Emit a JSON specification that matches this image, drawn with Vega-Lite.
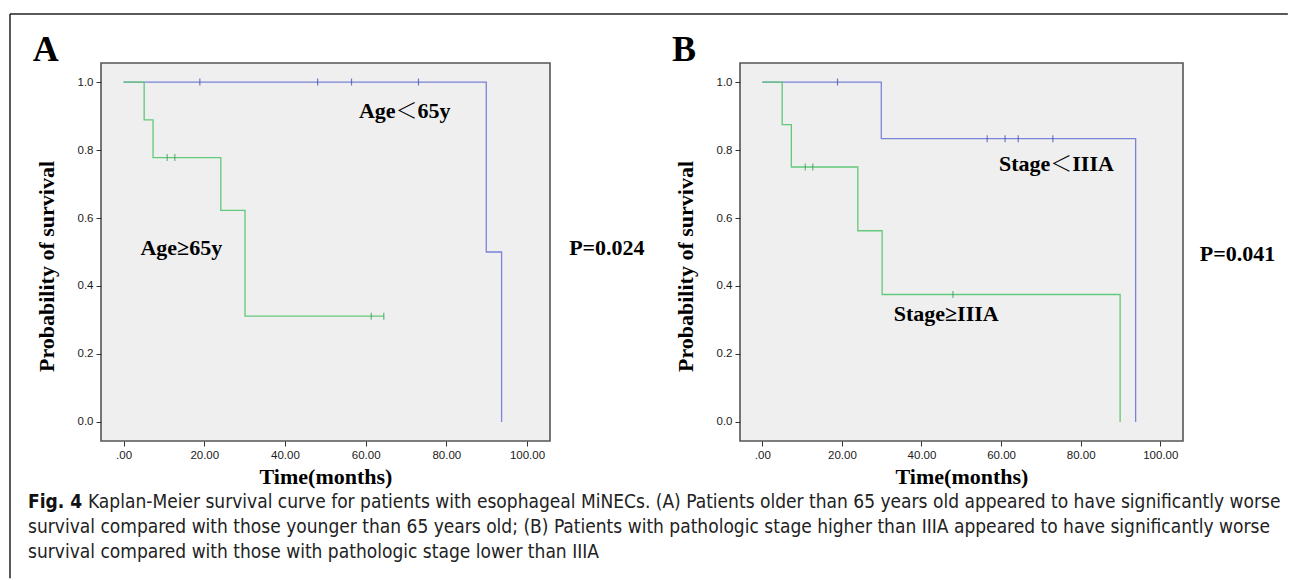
{
  "$schema": "https://vega.github.io/schema/vega-lite/v6.json",
  "background": "white",
  "padding": {"left": 8, "top": 12, "right": 0, "bottom": 0},
  "datasets": {
    "km_age": [
      {"group": "Age<65y", "time": 0, "prob": 1},
      {"group": "Age<65y", "time": 89.9, "prob": 0.5},
      {"group": "Age<65y", "time": 93.7, "prob": 0},
      {"group": "Age≥65y", "time": 0, "prob": 1},
      {"group": "Age≥65y", "time": 5.1, "prob": 0.8889},
      {"group": "Age≥65y", "time": 7.3, "prob": 0.7778},
      {"group": "Age≥65y", "time": 24.1, "prob": 0.6222},
      {"group": "Age≥65y", "time": 30.1, "prob": 0.3111},
      {"group": "Age≥65y", "time": 64.5, "prob": 0.3111}
    ],
    "censor_age": [
      {"group": "Age<65y", "time": 18.9, "prob": 1},
      {"group": "Age<65y", "time": 48.1, "prob": 1},
      {"group": "Age<65y", "time": 56.5, "prob": 1},
      {"group": "Age<65y", "time": 73.1, "prob": 1},
      {"group": "Age≥65y", "time": 10.8, "prob": 0.7778},
      {"group": "Age≥65y", "time": 12.7, "prob": 0.7778},
      {"group": "Age≥65y", "time": 61.4, "prob": 0.3111},
      {"group": "Age≥65y", "time": 64.5, "prob": 0.3111}
    ],
    "km_stage": [
      {"group": "Stage<IIIA", "time": 0, "prob": 1},
      {"group": "Stage<IIIA", "time": 29.9, "prob": 0.8333},
      {"group": "Stage<IIIA", "time": 93.8, "prob": 0},
      {"group": "Stage≥IIIA", "time": 0, "prob": 1},
      {"group": "Stage≥IIIA", "time": 5.0, "prob": 0.875},
      {"group": "Stage≥IIIA", "time": 7.3, "prob": 0.75},
      {"group": "Stage≥IIIA", "time": 24.0, "prob": 0.5625},
      {"group": "Stage≥IIIA", "time": 30.1, "prob": 0.375},
      {"group": "Stage≥IIIA", "time": 89.9, "prob": 0}
    ],
    "censor_stage": [
      {"group": "Stage<IIIA", "time": 18.9, "prob": 1},
      {"group": "Stage<IIIA", "time": 56.5, "prob": 0.8333},
      {"group": "Stage<IIIA", "time": 61.0, "prob": 0.8333},
      {"group": "Stage<IIIA", "time": 64.3, "prob": 0.8333},
      {"group": "Stage<IIIA", "time": 73.0, "prob": 0.8333},
      {"group": "Stage≥IIIA", "time": 10.8, "prob": 0.75},
      {"group": "Stage≥IIIA", "time": 12.7, "prob": 0.75},
      {"group": "Stage≥IIIA", "time": 47.9, "prob": 0.375}
    ],
    "caption": [
      {"line": 1, "text": "Kaplan-Meier survival curve for patients with esophageal MiNECs. (A) Patients older than 65 years old appeared to have significantly worse"},
      {"line": 2, "text": "survival compared with those younger than 65 years old; (B) Patients with pathologic stage higher than IIIA appeared to have significantly worse"},
      {"line": 3, "text": "survival compared with those with pathologic stage lower than IIIA"}
    ]
  },
  "bounds": "flush",
  "columns": 2,
  "spacing": {"row": 48.5, "column": 190},
  "concat": [
    {
      "width": 449,
      "height": 378,
      "view": {"fill": "#efefef", "stroke": "#555555", "strokeWidth": 1.6},
      "resolve": {"scale": {"color": "independent"}},
      "layer": [
        {
          "data": {"name": "km_age"},
          "mark": {"type": "line", "interpolate": "step-after", "strokeWidth": 1.3, "clip": false},
          "encoding": {
            "x": {"field": "time", "type": "quantitative", "scale": {"domain": [-5.6, 105.7], "nice": false, "zero": false},
              "axis": {"values": [0, 20, 40, 60, 80, 100], "labelExpr": "datum.value == 0 ? '.00' : format(datum.value, '.2f')", "title": "Time(months)", "grid": false, "domain": false, "tickSize": 5, "tickColor": "#333333", "labelFont": "Liberation Sans", "labelFontSize": 11.5, "labelColor": "#1a1a1a", "labelPadding": 3, "labelFlush": false, "titleFont": "Liberation Serif", "titleFontSize": 22, "titleFontWeight": "bold", "titleColor": "#000000", "titleY": 35, "titleBaseline": "middle"}},
            "y": {"field": "prob", "type": "quantitative", "scale": {"domain": [-0.056, 1.056], "nice": false, "zero": false},
              "axis": {"values": [0, 0.2, 0.4, 0.6, 0.8, 1], "format": ".1f", "title": "Probability of survival", "grid": false, "domain": false, "tickSize": 5, "tickColor": "#333333", "labelFont": "Liberation Sans", "labelFontSize": 11.5, "labelColor": "#1a1a1a", "labelPadding": 3, "labelFlush": false, "titleFont": "Liberation Serif", "titleFontSize": 22, "titleFontWeight": "bold", "titleColor": "#000000", "titleX": -55, "titleY": 203, "titleBaseline": "middle"}},
            "color": {"field": "group", "type": "nominal", "scale": {"domain": ["Age<65y", "Age≥65y"], "range": ["#7b83d6", "#62c97a"]}, "legend": null}
          }
        },
        {
          "data": {"name": "censor_age"},
          "mark": {"type": "tick", "orient": "vertical", "size": 7, "thickness": 1.2, "clip": false},
          "encoding": {
            "x": {"field": "time", "type": "quantitative"},
            "y": {"field": "prob", "type": "quantitative"},
            "color": {"field": "group", "type": "nominal", "scale": {"domain": ["Age<65y", "Age≥65y"], "range": ["#3a49b0", "#2f9a4f"]}, "legend": null}
          }
        },
        {
          "data": {"values": [{}]},
          "mark": {"type": "text", "text": "A", "font": "Liberation Serif", "fontSize": 36, "fontWeight": "bold", "color": "#000000", "align": "center", "baseline": "alphabetic", "clip": false},
          "encoding": {"x": {"datum": -19.3}, "y": {"datum": 1.062}}
        },
        {
          "data": {"values": [{}]},
          "mark": {"type": "text", "text": "Age＜65y", "font": "Liberation Serif, Noto Serif CJK SC, Noto Sans CJK SC", "fontSize": 22, "fontWeight": "bold", "color": "#000000", "align": "center", "baseline": "middle"},
          "encoding": {"x": {"datum": 69.7}, "y": {"datum": 0.915}}
        },
        {
          "data": {"values": [{}]},
          "mark": {"type": "text", "text": "Age≥65y", "font": "Liberation Serif", "fontSize": 22, "fontWeight": "bold", "color": "#000000", "align": "center", "baseline": "middle"},
          "encoding": {"x": {"datum": 14.3}, "y": {"datum": 0.512}}
        },
        {
          "data": {"values": [{}]},
          "mark": {"type": "text", "text": "P=0.024", "font": "Liberation Serif", "fontSize": 22, "fontWeight": "bold", "color": "#000000", "align": "center", "baseline": "middle", "clip": false},
          "encoding": {"x": {"datum": 119.8}, "y": {"datum": 0.513}}
        },
        {
          "data": {"values": [{}]},
          "mark": {"type": "rule", "color": "#222222", "strokeWidth": 1.5, "clip": false},
          "encoding": {"x": {"datum": -28.16}, "y": {"datum": 1.2}, "y2": {"datum": -0.46}}
        },
        {
          "data": {"values": [{}]},
          "mark": {"type": "rule", "color": "#222222", "strokeWidth": 1.5, "clip": false},
          "encoding": {"x": {"datum": -28.16}, "x2": {"datum": 288.6}, "y": {"datum": 1.2}}
        }
      ]
    },
    {
      "width": 443,
      "height": 378,
      "view": {"fill": "#efefef", "stroke": "#555555", "strokeWidth": 1.6},
      "resolve": {"scale": {"color": "independent"}},
      "layer": [
        {
          "data": {"name": "km_stage"},
          "mark": {"type": "line", "interpolate": "step-after", "strokeWidth": 1.3, "clip": false},
          "encoding": {
            "x": {"field": "time", "type": "quantitative", "scale": {"domain": [-5.6, 105.7], "nice": false, "zero": false},
              "axis": {"values": [0, 20, 40, 60, 80, 100], "labelExpr": "datum.value == 0 ? '.00' : format(datum.value, '.2f')", "title": "Time(months)", "grid": false, "domain": false, "tickSize": 5, "tickColor": "#333333", "labelFont": "Liberation Sans", "labelFontSize": 11.5, "labelColor": "#1a1a1a", "labelPadding": 3, "labelFlush": false, "titleFont": "Liberation Serif", "titleFontSize": 22, "titleFontWeight": "bold", "titleColor": "#000000", "titleY": 35, "titleBaseline": "middle"}},
            "y": {"field": "prob", "type": "quantitative", "scale": {"domain": [-0.056, 1.056], "nice": false, "zero": false},
              "axis": {"values": [0, 0.2, 0.4, 0.6, 0.8, 1], "format": ".1f", "title": "Probability of survival", "grid": false, "domain": false, "tickSize": 5, "tickColor": "#333333", "labelFont": "Liberation Sans", "labelFontSize": 11.5, "labelColor": "#1a1a1a", "labelPadding": 3, "labelFlush": false, "titleFont": "Liberation Serif", "titleFontSize": 22, "titleFontWeight": "bold", "titleColor": "#000000", "titleX": -55, "titleY": 203, "titleBaseline": "middle"}},
            "color": {"field": "group", "type": "nominal", "scale": {"domain": ["Stage<IIIA", "Stage≥IIIA"], "range": ["#7b83d6", "#62c97a"]}, "legend": null}
          }
        },
        {
          "data": {"name": "censor_stage"},
          "mark": {"type": "tick", "orient": "vertical", "size": 7, "thickness": 1.2, "clip": false},
          "encoding": {
            "x": {"field": "time", "type": "quantitative"},
            "y": {"field": "prob", "type": "quantitative"},
            "color": {"field": "group", "type": "nominal", "scale": {"domain": ["Stage<IIIA", "Stage≥IIIA"], "range": ["#3a49b0", "#2f9a4f"]}, "legend": null}
          }
        },
        {
          "data": {"values": [{}]},
          "mark": {"type": "text", "text": "B", "font": "Liberation Serif", "fontSize": 36, "fontWeight": "bold", "color": "#000000", "align": "center", "baseline": "alphabetic", "clip": false},
          "encoding": {"x": {"datum": -19.7}, "y": {"datum": 1.062}}
        },
        {
          "data": {"values": [{}]},
          "mark": {"type": "text", "text": "Stage＜IIIA", "font": "Liberation Serif, Noto Serif CJK SC, Noto Sans CJK SC", "fontSize": 22, "fontWeight": "bold", "color": "#000000", "align": "center", "baseline": "middle"},
          "encoding": {"x": {"datum": 73.9}, "y": {"datum": 0.759}}
        },
        {
          "data": {"values": [{}]},
          "mark": {"type": "text", "text": "Stage≥IIIA", "font": "Liberation Serif", "fontSize": 22, "fontWeight": "bold", "color": "#000000", "align": "center", "baseline": "middle"},
          "encoding": {"x": {"datum": 46.2}, "y": {"datum": 0.318}}
        },
        {
          "data": {"values": [{}]},
          "mark": {"type": "text", "text": "P=0.041", "font": "Liberation Serif", "fontSize": 22, "fontWeight": "bold", "color": "#000000", "align": "center", "baseline": "middle", "clip": false},
          "encoding": {"x": {"datum": 119.4}, "y": {"datum": 0.494}}
        }
      ]
    },
    {
      "width": 449,
      "height": 75,
      "view": {"stroke": null, "fill": null},
      "data": {"name": "caption"},
      "layer": [
        {
          "transform": [{"filter": "datum.line == 1"}],
          "mark": {"type": "text", "text": "Fig. 4", "align": "left", "baseline": "middle", "font": "Liberation Sans Narrow, DejaVu Sans Condensed, Liberation Sans", "fontSize": 19, "fontWeight": "bold", "color": "#111111", "dx": -73},
          "encoding": {
            "x": {"datum": 0, "scale": {"domain": [0, 1]}, "axis": null},
            "y": {"field": "line", "type": "ordinal", "scale": {"type": "point", "padding": 0.5}, "axis": null}
          }
        },
        {
          "transform": [{"filter": "datum.line == 1"}],
          "mark": {"type": "text", "align": "left", "baseline": "middle", "font": "Liberation Sans Narrow, DejaVu Sans Condensed, Liberation Sans", "fontSize": 19, "color": "#222222", "dx": -13},
          "encoding": {
            "x": {"datum": 0},
            "y": {"field": "line", "type": "ordinal"},
            "text": {"field": "text"}
          }
        },
        {
          "transform": [{"filter": "datum.line > 1"}],
          "mark": {"type": "text", "align": "left", "baseline": "middle", "font": "Liberation Sans Narrow, DejaVu Sans Condensed, Liberation Sans", "fontSize": 19, "color": "#222222", "dx": -73},
          "encoding": {
            "x": {"datum": 0},
            "y": {"field": "line", "type": "ordinal"},
            "text": {"field": "text"}
          }
        }
      ]
    }
  ]
}
